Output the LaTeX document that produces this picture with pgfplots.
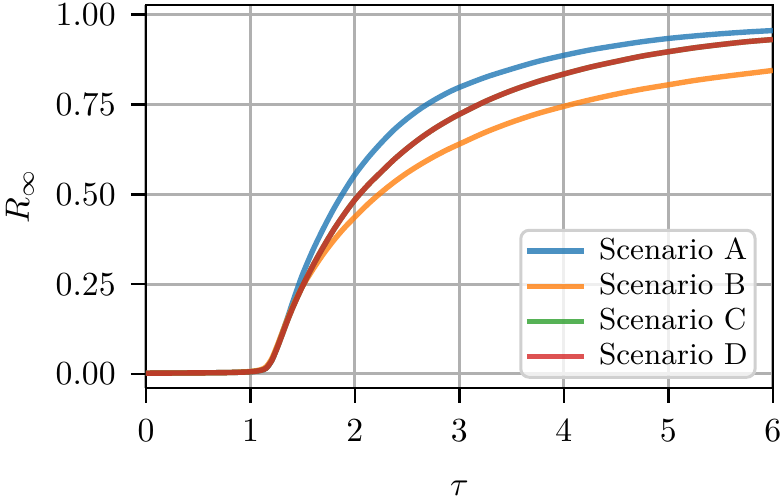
\documentclass[border=0pt]{standalone}
\usepackage{pgfplots}
\pgfplotsset{compat=1.18}
\definecolor{tabblue}{HTML}{1F77B4}
\definecolor{taborange}{HTML}{FF7F0E}
\definecolor{tabgreen}{HTML}{2CA02C}
\definecolor{tabred}{HTML}{D62728}
\definecolor{gridgray}{HTML}{B0B0B0}
\definecolor{legedge}{HTML}{D0D0D0}

\pgfplotstableread{
t A
0.00 0.002
0.50 0.003
0.80 0.004
1.00 0.006
1.10 0.010
1.15 0.016
1.20 0.035
1.25 0.070
1.30 0.110
1.35 0.152
1.40 0.196
1.45 0.238
1.50 0.278
1.60 0.346
1.70 0.406
1.80 0.461
1.90 0.510
2.000 0.555
2.125 0.602
2.250 0.643
2.375 0.680
2.500 0.711
2.625 0.738
2.750 0.761
2.875 0.781
3.00 0.798
3.25 0.826
3.50 0.849
3.75 0.870
4.00 0.887
4.25 0.902
4.50 0.914
4.75 0.925
5.00 0.934
5.25 0.941
5.50 0.947
5.75 0.952
6.00 0.956
}\tabA

\pgfplotstableread{
t B
0.00 0.002
0.50 0.003
0.80 0.004
1.00 0.007
1.10 0.012
1.15 0.020
1.20 0.040
1.25 0.074
1.30 0.112
1.35 0.150
1.40 0.185
1.45 0.216
1.50 0.245
1.60 0.292
1.70 0.335
1.80 0.373
1.90 0.407
2.000 0.437
2.125 0.473
2.250 0.505
2.375 0.534
2.500 0.560
2.625 0.583
2.750 0.604
2.875 0.623
3.00 0.640
3.25 0.673
3.50 0.701
3.75 0.725
4.00 0.745
4.25 0.763
4.50 0.779
4.75 0.793
5.00 0.805
5.25 0.817
5.50 0.827
5.75 0.836
6.00 0.845
}\tabB

\pgfplotstableread{
t C
0.00 0.002
0.50 0.003
0.80 0.004
1.00 0.006
1.10 0.010
1.15 0.016
1.20 0.035
1.25 0.068
1.30 0.106
1.35 0.145
1.40 0.181
1.45 0.214
1.50 0.245
1.60 0.303
1.70 0.355
1.80 0.403
1.90 0.446
2.000 0.485
2.125 0.526
2.250 0.562
2.375 0.597
2.500 0.628
2.625 0.656
2.750 0.681
2.875 0.703
3.00 0.723
3.25 0.759
3.50 0.789
3.75 0.814
4.00 0.835
4.25 0.854
4.50 0.870
4.75 0.885
5.00 0.897
5.25 0.908
5.50 0.917
5.75 0.925
6.00 0.931
}\tabC

\pgfplotstableread{
t D
0.00 0.002
0.50 0.003
0.80 0.004
1.00 0.006
1.10 0.010
1.15 0.016
1.20 0.035
1.25 0.068
1.30 0.106
1.35 0.145
1.40 0.181
1.45 0.214
1.50 0.245
1.60 0.303
1.70 0.355
1.80 0.403
1.90 0.446
2.000 0.485
2.125 0.526
2.250 0.562
2.375 0.597
2.500 0.628
2.625 0.656
2.750 0.681
2.875 0.703
3.00 0.723
3.25 0.759
3.50 0.789
3.75 0.814
4.00 0.835
4.25 0.854
4.50 0.870
4.75 0.885
5.00 0.897
5.25 0.908
5.50 0.917
5.75 0.925
6.00 0.931
}\tabD

\begin{document}
\begin{tikzpicture}
\begin{axis}[
  name=ax,
  scale only axis,
  width=186pt, height=113.6pt,
  xmin=0, xmax=6,
  ymin=-0.039, ymax=1.027,
  xtick={0,1,2,3,4,5,6},
  ytick={0,0.25,0.5,0.75,1},
  xtick pos=bottom, ytick pos=left,
  yticklabel style={/pgf/number format/fixed, /pgf/number format/fixed zerofill, /pgf/number format/precision=2, xshift=-1pt},
  xticklabel style={yshift=-1.5pt},
  tick align=outside,
  major tick length=4.45pt,
  every tick/.style={black, line width=0.75pt},
  axis line style={line width=0.75pt},
  grid=major,
  major grid style={gridgray, line width=0.9pt},
  xlabel={$\tau$},
  ylabel={$R_\infty$},
  every axis x label/.style={at={(axis description cs:0.5,0)}, yshift=-29.7pt, anchor=center},
  every axis y label/.style={at={(axis description cs:0,0.5)}, xshift=-37.4pt, rotate=90, anchor=center},
  legend cell align=left,
  legend style={at={(0.974,0.024)}, anchor=south east,
    font=\small, draw=legedge, line width=0.9pt, rounded corners=2.5pt,
    fill=white, fill opacity=0.8, text opacity=1,
    inner sep=1pt, column sep=2.4pt, row sep=0pt,
    nodes={inner sep=1.2pt, text height=6.5pt, text depth=1.5pt}},
  legend image code/.code={\draw[#1, line width=1.6pt] (0pt,0pt) -- (17pt,0pt);},
  every axis plot/.append style={line width=1.6pt, opacity=0.8, smooth, tension=0.5},
]
\addplot[tabblue] table[x=t, y=A] {\tabA};
\addlegendentry{Scenario A}
\addplot[taborange] table[x=t, y=B] {\tabB};
\addlegendentry{Scenario B}
\addplot[tabgreen] table[x=t, y=C] {\tabC};
\addlegendentry{Scenario C}
\addplot[tabred] table[x=t, y=D] {\tabD};
\addlegendentry{Scenario D}
\end{axis}
\pgfresetboundingbox
\useasboundingbox ([xshift=-43.3pt, yshift=-34.1pt]ax.south west) rectangle ([xshift=3.3pt, yshift=1.5pt]ax.north east);
\end{tikzpicture}
\end{document}
